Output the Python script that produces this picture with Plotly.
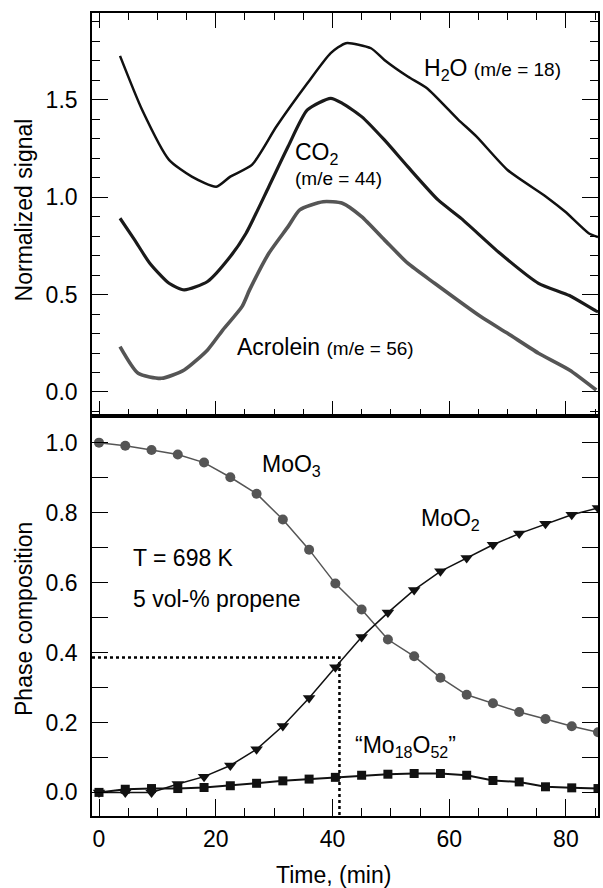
import plotly.graph_objects as go

# ---------------- data ----------------
# top panel: normalized MS signals vs time (min)
h2o_t = [3.6, 7.4, 12.0, 15.9, 20.1, 22.5, 26.2, 30.4, 35.7, 39.7, 42.3, 46.6, 48.9,
         52.9, 56.2, 61.5, 64.7, 70.0, 76.6, 79.9, 83.9, 85.5]
h2o_s = [1.726, 1.448, 1.192, 1.106, 1.054, 1.106, 1.166, 1.363, 1.585, 1.740, 1.791,
         1.765, 1.705, 1.620, 1.560, 1.400, 1.311, 1.140, 1.003, 0.925, 0.815, 0.795]

co2_t = [3.6, 6.1, 8.7, 12.0, 14.6, 18.6, 22.5, 25.2, 29.1, 32.4, 35.7, 39.7, 41.7,
         45.0, 48.9, 52.9, 58.1, 62.1, 68.7, 75.3, 80.6, 85.2, 85.5]
co2_s = [0.892, 0.781, 0.661, 0.558, 0.524, 0.567, 0.695, 0.815, 1.054, 1.260, 1.448,
         1.508, 1.482, 1.414, 1.294, 1.157, 0.986, 0.890, 0.712, 0.558, 0.495, 0.415, 0.412]

acr_t = [3.6, 6.7, 10.7, 14.6, 18.6, 21.2, 24.5, 25.8, 29.1, 32.4, 34.4, 38.4, 41.7,
         45.0, 48.9, 52.9, 57.5, 65.4, 70.0, 75.3, 80.6, 85.2]
acr_s = [0.233, 0.096, 0.070, 0.113, 0.216, 0.318, 0.438, 0.524, 0.712, 0.849, 0.935,
         0.977, 0.969, 0.900, 0.781, 0.661, 0.558, 0.387, 0.301, 0.199, 0.113, 0.010]

# bottom panel: phase composition vs time (min)
time_min = [0, 4.5, 9, 13.5, 18, 22.5, 27, 31.5, 36, 40.5, 45, 49.5, 54, 58.5, 63,
            67.5, 72, 76.5, 81, 85.5]
moo3 = [1.0, 0.991, 0.979, 0.966, 0.943, 0.901, 0.854, 0.780, 0.694, 0.597, 0.523,
        0.437, 0.389, 0.328, 0.279, 0.255, 0.230, 0.210, 0.189, 0.172]
moo2 = [0.0, 0.0, 0.0, 0.024, 0.045, 0.077, 0.123, 0.190, 0.270, 0.358, 0.444, 0.514,
        0.579, 0.632, 0.670, 0.708, 0.740, 0.768, 0.794, 0.813]
mo18o52 = [0.0, 0.009, 0.011, 0.011, 0.014, 0.019, 0.026, 0.033, 0.038, 0.043, 0.049,
           0.052, 0.054, 0.054, 0.049, 0.034, 0.030, 0.016, 0.013, 0.011]

# guide (dotted) lines: time where MoO2 fraction reaches this value
guide_time = 41.2
guide_frac = 0.386

x_range = [-1.2, 85.5]
top_range = [-0.122, 1.946]
bot_range = [-0.0675, 1.077]

x_tickvals = [0, 20, 40, 60, 80]

FONT = "Liberation Sans, Arial, Helvetica, sans-serif"
BIG = 23
SMALL = 19

fig = go.Figure()

# ---------- top panel ----------
fig.add_trace(go.Scatter(x=h2o_t, y=h2o_s, mode="lines", xaxis="x2", yaxis="y2",
                         line=dict(color="#111111", width=2.5, shape="spline", smoothing=0.6)))
fig.add_trace(go.Scatter(x=co2_t, y=co2_s, mode="lines", xaxis="x2", yaxis="y2",
                         line=dict(color="#1a1a1a", width=3.2, shape="spline", smoothing=0.6)))
fig.add_trace(go.Scatter(x=acr_t, y=acr_s, mode="lines", xaxis="x2", yaxis="y2",
                         line=dict(color="#555555", width=3.6, shape="spline", smoothing=0.6)))

# ---------- bottom panel ----------
fig.add_trace(go.Scatter(x=[x_range[0], guide_time, guide_time],
                         y=[guide_frac, guide_frac, bot_range[0]],
                         mode="lines", xaxis="x", yaxis="y",
                         line=dict(color="black", width=2.5, dash="dot")))
fig.add_trace(go.Scatter(x=time_min, y=moo3, mode="lines+markers", xaxis="x", yaxis="y",
                         line=dict(color="#555555", width=1.5),
                         marker=dict(symbol="circle", size=10, color="#555555")))
fig.add_trace(go.Scatter(x=time_min, y=moo2, mode="lines+markers", xaxis="x", yaxis="y",
                         line=dict(color="#111111", width=1.5),
                         marker=dict(symbol="triangle-down", size=11, color="#111111")))
fig.add_trace(go.Scatter(x=time_min, y=mo18o52, mode="lines+markers", xaxis="x", yaxis="y",
                         line=dict(color="#111111", width=2),
                         marker=dict(symbol="square", size=9, color="#111111")))

split = 0.4985

common_ax = dict(showgrid=False, zeroline=False, showline=True, linecolor="black",
                 linewidth=1.6, ticks="inside", tickcolor="black", tickwidth=1.3,
                 automargin=False,
                 tickfont=dict(family=FONT, size=BIG, color="black"))

fig.update_layout(
    width=603, height=888,
    margin=dict(l=92, r=5, t=13, b=72, autoexpand=False),
    paper_bgcolor="white", plot_bgcolor="white",
    showlegend=False,
    font=dict(family=FONT, size=BIG, color="black"),
    xaxis=dict(common_ax, domain=[0, 1], anchor="y", range=x_range,
               tickvals=x_tickvals, ticklen=17, mirror=True,
               ticklabelstandoff=2,
               minor=dict(dtick=5, tick0=0, ticklen=8, ticks="inside",
                          tickcolor="black", tickwidth=1.3)),
    xaxis3=dict(overlaying="x", anchor="y", side="top", range=x_range,
                tickvals=x_tickvals, ticks="inside", ticklen=14, tickcolor="black",
                tickwidth=1.3, showticklabels=False, showline=False,
                showgrid=False, zeroline=False, automargin=False),
    yaxis=dict(common_ax, domain=[0, split], anchor="x", range=bot_range,
               tickvals=[0, 0.2, 0.4, 0.6, 0.8, 1.0], tickformat=".1f",
               ticklen=16, mirror="ticks", ticklabelstandoff=8,
               minor=dict(dtick=0.1, tick0=0, ticklen=16, ticks="inside",
                          tickcolor="black", tickwidth=1.3)),
    xaxis2=dict(common_ax, domain=[0, 1], anchor="y2", range=x_range,
                tickvals=x_tickvals, ticklen=15, mirror="ticks",
                showticklabels=False,
                minor=dict(dtick=5, tick0=0, ticklen=7, ticks="inside",
                           tickcolor="black", tickwidth=1.3)),
    yaxis2=dict(common_ax, domain=[split, 1], anchor="x2", range=top_range,
                tickvals=[0, 0.5, 1.0, 1.5], tickformat=".1f",
                ticklen=16, mirror="ticks", ticklabelstandoff=8,
                minor=dict(dtick=0.1, tick0=0, ticklen=8, ticks="inside",
                           tickcolor="black", tickwidth=1.3)),
)

# axis titles
title_font = dict(family=FONT, size=BIG, color="black")
fig.add_annotation(text="Time, (min)", x=0.478, y=-0.074, xref="paper", yref="paper",
                   showarrow=False, xanchor="center", yanchor="middle", font=title_font)
fig.add_annotation(text="Normalized signal", x=-0.135, y=0.755, xref="paper", yref="paper",
                   showarrow=False, textangle=-90, xanchor="center", yanchor="middle",
                   font=title_font)
fig.add_annotation(text="Phase composition", x=-0.133, y=0.245, xref="paper", yref="paper",
                   showarrow=False, textangle=-90, xanchor="center", yanchor="middle",
                   font=title_font)

def ann(text, x, y, xref, yref, size=BIG):
    fig.add_annotation(text=text, x=x, y=y, xref=xref, yref=yref, showarrow=False,
                       xanchor="left", yanchor="middle",
                       font=dict(family=FONT, size=size, color="black"))

small = f"<span style='font-size:{SMALL}px'>"
ann(f"H<sub>2</sub>O {small}(m/e = 18)</span>", 55.3, 1.654, "x2", "y2")
ann("CO<sub>2</sub>", 33.3, 1.222, "x2", "y2")
ann("(m/e = 44)", 33.3, 1.094, "x2", "y2", size=SMALL)
ann(f"Acrolein {small}(m/e = 56)</span>", 23.3, 0.233, "x2", "y2")

ann("MoO<sub>3</sub>", 27.5, 0.935, "x", "y")
ann("MoO<sub>2</sub>", 54.9, 0.780, "x", "y")
ann("T = 698 K", 5.4, 0.670, "x", "y")
ann("5 vol-% propene", 5.4, 0.552, "x", "y")
ann("\u201cMo<sub>18</sub>O<sub>52</sub>\u201d", 43.5, 0.130, "x", "y")

fig.write_html("out.html")
